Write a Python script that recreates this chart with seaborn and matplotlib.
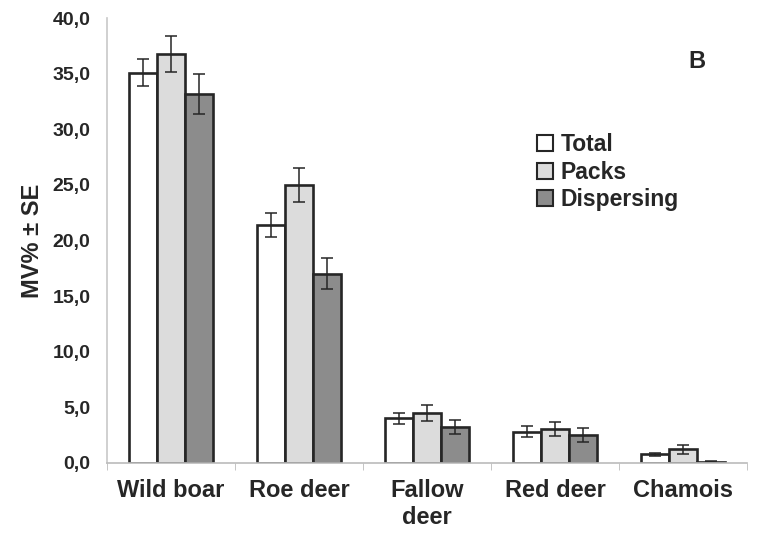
import numpy as np
import pandas as pd
import seaborn as sns
import matplotlib.pyplot as plt
from matplotlib.patches import Patch
from matplotlib.ticker import FuncFormatter, FixedLocator

species = ["Wild boar", "Roe deer", "Fallow\ndeer", "Red deer", "Chamois"]
groups = ["Total", "Packs", "Dispersing"]
total = [35.1, 21.4, 4.0, 2.8, 0.75]
packs = [36.8, 25.0, 4.5, 3.05, 1.2]
dispersing = [33.2, 17.0, 3.2, 2.5, 0.1]
total_se = [1.2, 1.1, 0.5, 0.5, 0.1]
packs_se = [1.6, 1.5, 0.7, 0.6, 0.4]
dispersing_se = [1.8, 1.4, 0.65, 0.6, 0.05]

colors = ["#ffffff", "#dcdcdc", "#8c8c8c"]

df = pd.DataFrame({
    "species": species * 3,
    "group": [g for g in groups for _ in species],
    "value": total + packs + dispersing,
})
errs = [total_se, packs_se, dispersing_se]

sns.set_style("white")
plt.rcParams["font.family"] = ["Liberation Sans", "DejaVu Sans"]
plt.rcParams["font.weight"] = "bold"

fig = plt.figure(figsize=(7.6, 5.35), dpi=100)
ax = fig.add_axes([0.141, 0.135, 0.842, 0.831])

sns.barplot(data=df, x="species", y="value", hue="group", order=species,
            hue_order=groups, palette=colors, width=0.66, edgecolor="#262626",
            linewidth=1.9, errorbar=None, legend=False, ax=ax)

# error bars from the bar containers
for cont, se in zip(ax.containers, errs):
    xs = [b.get_x() + b.get_width() / 2 for b in cont]
    ys = [b.get_height() for b in cont]
    ax.errorbar(xs, ys, yerr=se, fmt="none", ecolor="#262626",
                elinewidth=1.1, capsize=4, capthick=1.1)

ax.set_ylim(0, 40)
ax.set_xlim(-0.5, 4.5)
ax.set_yticks(np.arange(0, 41, 5))
ax.yaxis.set_major_formatter(FuncFormatter(lambda v, p: f"{v:.1f}".replace(".", ",")))
ax.tick_params(axis="y", labelsize=14, length=0, pad=12)
ax.tick_params(axis="x", which="major", labelsize=17, length=0, pad=12)
ax.xaxis.set_minor_locator(FixedLocator(np.arange(-0.5, 5, 1)))
ax.tick_params(axis="x", which="minor", length=5, color="#bbbbbb", direction="out", bottom=True)
for lab in ax.get_xticklabels() + ax.get_yticklabels():
    lab.set_fontweight("bold")

ax.set_xlabel("")
ax.set_ylabel("MV% ± SE", fontsize=17, fontweight="bold", labelpad=6)

sns.despine(ax=ax)
ax.spines["left"].set_color("#c8c8c8")
ax.spines["bottom"].set_color("#bbbbbb")
ax.spines["left"].set_linewidth(1.2)
ax.spines["bottom"].set_linewidth(1.2)

handles = [Patch(facecolor=c, edgecolor="#262626", linewidth=1.5) for c in colors]
fig.legend(handles, groups, loc="upper left", bbox_to_anchor=(0.695, 0.768),
           frameon=False, handlelength=0.7, handleheight=0.7,
           handletextpad=0.3, labelspacing=0.2, borderaxespad=0,
           prop={"weight": "bold", "size": 16.5})

fig.text(0.917, 0.885, "B", fontsize=17, fontweight="bold", ha="center", va="center")

fig.savefig("out.png", dpi=100)
